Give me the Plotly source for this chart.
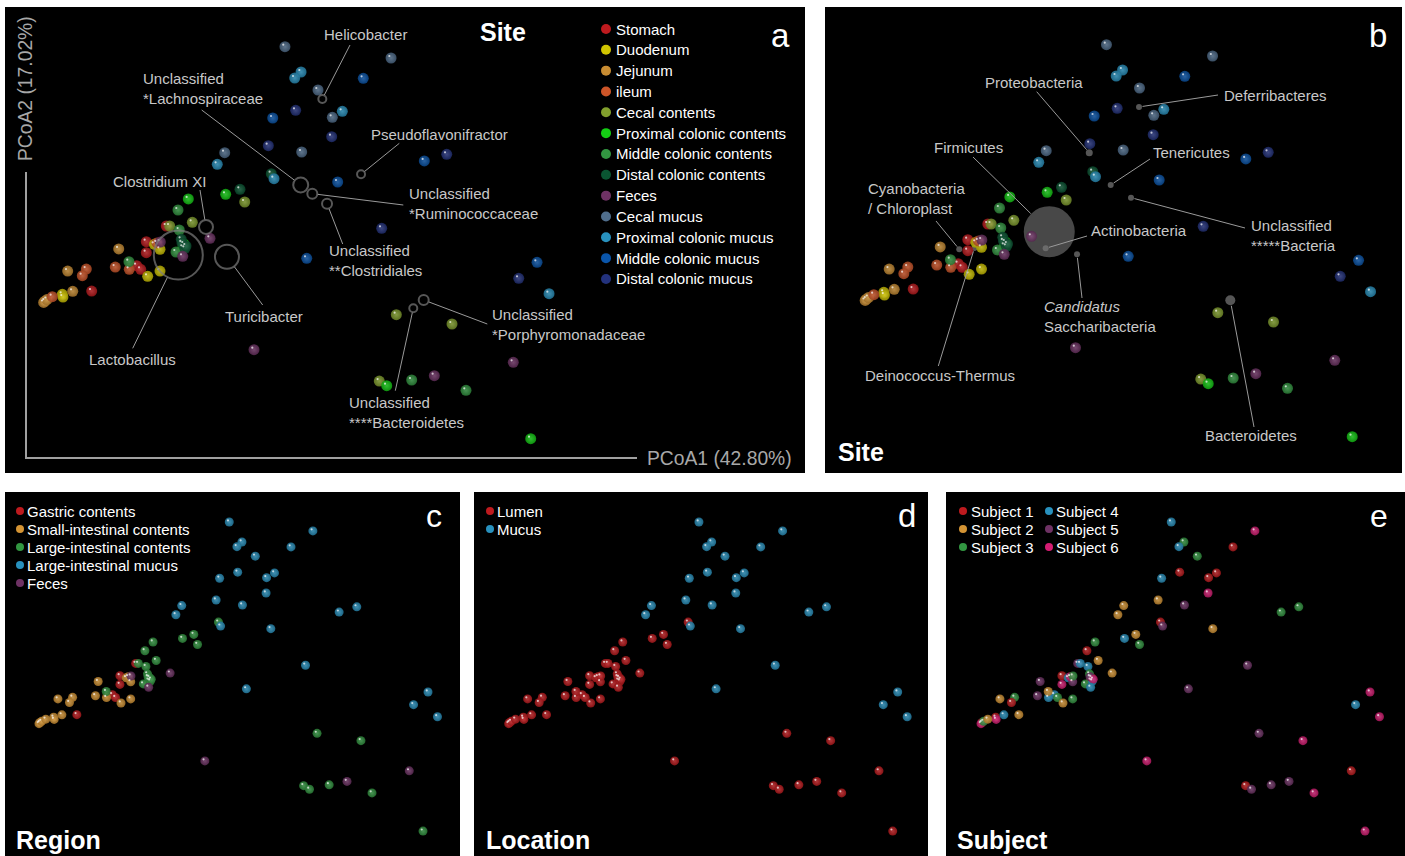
import plotly.graph_objects as go

W, H = 1405, 856
FONT = "Liberation Sans, Arial, sans-serif"

# ---------------- categories ----------------
SITES = ["Stomach", "Duodenum", "Jejunum", "ileum", "Cecal contents",
         "Proximal colonic contents", "Middle colonic contents", "Distal colonic contents",
         "Feces", "Cecal mucus", "Proximal colonic mucus", "Middle colonic mucus",
         "Distal colonic mucus"]
SITE_COLORS = ["#be1a1e", "#cfc400", "#c88c32", "#cd5528", "#82a02d", "#14cd14",
               "#329641", "#0a5532", "#6e3264", "#506e8c", "#2891be", "#0a55aa", "#23327d"]

REGIONS = ["Gastric contents", "Small-intestinal contents", "Large-intestinal contents",
           "Large-intestinal mucus", "Feces"]
REGION_COLORS = ["#be1a1e", "#d49434", "#329641", "#2891be", "#6e3264"]
SITE_REGION = [0, 1, 1, 1, 2, 2, 2, 2, 4, 3, 3, 3, 3]

LOCATIONS = ["Lumen", "Mucus"]
LOCATION_COLORS = ["#be1a1e", "#2891be"]
SITE_LOCATION = [0, 0, 0, 0, 0, 0, 0, 0, 0, 1, 1, 1, 1]

SUBJECTS = ["Subject 1", "Subject 2", "Subject 3", "Subject 4", "Subject 5", "Subject 6"]
SUBJECT_COLORS = ["#be1a1e", "#d49434", "#329641", "#2891be", "#6e3264", "#d41c72"]

# ---------------- samples (PCoA coordinates) ----------------
PC1 = [-0.1671, -0.1921, -0.1921, -0.2041, -0.1991, -0.2604,
       -0.1821, -0.1750, -0.1904, -0.1750, -0.2971, -0.2963,
       -0.2266, -0.2904, -0.2841, -0.3188, -0.3204, -0.3163,
       -0.2309, -0.2134, -0.2671, -0.2721, -0.3096, -0.1788,
       -0.1346, -0.0691, 0.1204, 0.1900, 0.0991, -0.1629,
       -0.1396, -0.0929, -0.1463, 0.1084, 0.2884, -0.1450,
       -0.1525, -0.1509, -0.1550, -0.2138, 0.1396, 0.2075,
       -0.0359, -0.0750, -0.1484, -0.1438, -0.1475, -0.1425,
       -0.1125, -0.1746, -0.1466, -0.0575, 0.2666, 0.1679,
       -0.0188, 0.1138, 0.0225, 0.0404, 0.0021, -0.0941,
       0.0013, -0.0066, 0.0529, -0.1034, -0.0325, 0.3113,
       0.0791, -0.0341, 0.0471, 0.1554, 0.0084, 0.2963,
       -0.0054, 0.0396, -0.0396, 0.1021, 0.1834, 0.2734]
PC2 = [0.0300, 0.0104, -0.0034, -0.0196, -0.0241, -0.0513,
       0.0071, 0.0009, -0.0329, -0.0263, -0.0554, -0.0588,
       0.0013, -0.0263, -0.0516, -0.0638, -0.0656, -0.0619,
       -0.0213, -0.0241, -0.0238, -0.0321, -0.0584, 0.0088,
       0.0346, 0.0600, -0.0809, -0.0925, -0.1638, 0.0300,
       0.0638, 0.0696, 0.0034, -0.1696, -0.2359, 0.0075,
       0.0500, 0.0250, -0.0025, -0.0146, -0.1625, -0.1754,
       0.0954, 0.0759, 0.0134, 0.0021, 0.0088, 0.0050,
       0.0146, 0.0100, -0.0079, -0.1246, -0.1404, -0.1571,
       0.2541, 0.2400, 0.2000, 0.1659, 0.1225, 0.1216,
       0.2225, 0.2150, 0.1734, 0.1071, 0.0891, -0.0546,
       0.2146, 0.1650, 0.0850, 0.1113, -0.0104, -0.0154,
       0.1746, 0.1416, 0.1304, 0.0271, 0.1196, -0.0354]
SITE_IDX = [0] * 6 + [1] * 6 + [2] * 6 + [3] * 6 + [4] * 6 + [5] * 6 + [6] * 6 + \
           [7] * 6 + [8] * 6 + [9] * 6 + [10] * 6 + [11] * 6 + [12] * 6
SUBJECT_IDX = [4, 0, 5, 3, 2, 1,
               3, 4, 1, 2, 0, 5,
               4, 1, 3, 0, 5, 2,
               4, 3, 2, 0, 1, 5,
               1, 2, 4, 5, 0, 3,
               2, 3, 1, 4, 5, 0,
               0, 3, 2, 1, 4, 5,
               0, 1, 2, 3, 4, 5,
               1, 2, 3, 5, 0, 4,
               3, 5, 2, 0, 4, 1,
               2, 3, 0, 1, 4, 5,
               0, 3, 1, 2, 4, 5,
               0, 5, 1, 4, 2, 3]

# ---------------- taxa biplot (panel a) ----------------
TAXA = ["Helicobacter", "Unclassified<br>*Lachnospiraceae", "Pseudoflavonifractor",
        "Clostridium XI", "Unclassified<br>*Ruminococcaceae", "Unclassified<br>**Clostridiales",
        "Turicibacter", "Lactobacillus", "Unclassified<br>*Porphyromonadaceae",
        "Unclassified<br>****Bacteroidetes"]
TAXA_PC1 = [0.0279, 0.0009, 0.0763, -0.1175, 0.0154, 0.0338, -0.0913, -0.1521, 0.1546, 0.1416]
TAXA_PC2 = [0.1888, 0.0813, 0.0946, 0.0288, 0.0704, 0.0579, -0.0084, -0.0063, -0.0625, -0.0729]
TAXA_SIZE = [8, 15, 8, 14, 10, 10, 24, 49, 10, 8]

# ---------------- phyla biplot (panel b) ----------------
PHYLA = ["Firmicutes", "Proteobacteria", "Deferribacteres", "Tenericutes",
         "Unclassified<br>*****Bacteria", "Actinobacteria",
         "<i>Candidatus</i><br>Saccharibacteria", "Cyanobacteria<br>/ Chloroplast",
         "Deinococcus-Thermus", "Bacteroidetes"]
PHYLA_PC1 = [-0.0903, -0.0403, 0.0219, -0.0135, 0.0119, -0.0948, -0.0556, -0.2028, -0.1838, 0.1360]
PHYLA_PC2 = [0.0204, 0.1191, 0.1763, 0.0788, 0.0629, -0.0004, -0.0079, -0.0016, 0.0000, -0.0654]
PHYLA_SIZE = [51, 7, 6, 6, 6, 6, 6, 6, 6, 10]

# ---------------- panel geometry (pixels) ----------------
# name, (left, top, right, bottom), x-offset, y-offset, px per PCoA unit
PANELS = [
    ("a", (5, 7, 805, 473), 300.0, 250.0, 800.0),
    ("b", (825, 7, 1402, 473), 1121.5, 248.0, 800.0),
    ("c", (5, 492, 460, 856), 241.1, 682.3, 630.8),
    ("d", (474, 492, 928, 856), 710.8, 682.3, 630.8),
    ("e", (946, 492, 1405, 856), 1183.1, 682.3, 630.8),
]


def px(x):
    return x / W


def py(y):
    return 1 - y / H


def to_px(p, x, y):
    _, _, ox, oy, s = p
    return ox + s * x, oy - s * y


def rgb(hexc):
    return int(hexc[1:3], 16), int(hexc[3:5], 16), int(hexc[5:7], 16)


def darker(hexc, f=0.78):
    r, g, b = rgb(hexc)
    return f"rgb({int(r*f)},{int(g*f)},{int(b*f)})"


def lighter(hexc, t=0.15):
    r, g, b = rgb(hexc)
    return f"rgb({int(r+(255-r)*t)},{int(g+(255-g)*t)},{int(b+(255-b)*t)})"


fig = go.Figure()
shapes = []
annos = []


def axes_names(i):
    n = "" if i == 0 else str(i + 1)
    return "x" + n, "y" + n, "xaxis" + n, "yaxis" + n


layout_axes = {}
for i, p in enumerate(PANELS):
    name, (x0, y0, x1, y1), ox, oy, s = p
    xa, ya, xk, yk = axes_names(i)
    layout_axes[xk] = dict(domain=[px(x0), px(x1)], range=[(x0 - ox) / s, (x1 - ox) / s],
                           visible=False, anchor=ya, fixedrange=True)
    layout_axes[yk] = dict(domain=[py(y1), py(y0)], range=[(oy - y1) / s, (oy - y0) / s],
                           visible=False, anchor=xa, fixedrange=True)
    shapes.append(dict(type="rect", xref="paper", yref="paper", x0=px(x0), x1=px(x1),
                       y0=py(y1), y1=py(y0), fillcolor="black", line=dict(width=0),
                       layer="below"))

# colours per panel
site_cols = [SITE_COLORS[k] for k in SITE_IDX]
panel_cols = [
    site_cols,
    site_cols,
    [REGION_COLORS[SITE_REGION[k]] for k in SITE_IDX],
    [LOCATION_COLORS[SITE_LOCATION[k]] for k in SITE_IDX],
    [SUBJECT_COLORS[k] for k in SUBJECT_IDX],
]

# phyla circles under the points in panel b
fig.add_trace(go.Scatter(
    x=PHYLA_PC1, y=PHYLA_PC2, xaxis="x2", yaxis="y2", mode="markers",
    marker=dict(size=PHYLA_SIZE, color=["#666666"] + ["#7a7a7a"] * 9,
                line=dict(width=0)),
    hoverinfo="skip", showlegend=False))

for i, p in enumerate(PANELS):
    xa, ya, _, _ = axes_names(i)
    s = p[4]
    msize = 11 if i < 2 else 9
    cols = panel_cols[i]
    fig.add_trace(go.Scatter(
        x=PC1, y=PC2, xaxis=xa, yaxis=ya, mode="markers",
        marker=dict(size=msize, color=[darker(c) for c in cols], opacity=0.9,
                    gradient=dict(type="radial", color=[lighter(c) for c in cols]),
                    line=dict(width=0)),
        hoverinfo="skip", showlegend=False))
    hx = 1.7 if i < 2 else 1.3
    hy = 2.0 if i < 2 else 1.6
    fig.add_trace(go.Scatter(
        x=[v - hx / s for v in PC1], y=[v + hy / s for v in PC2], xaxis=xa, yaxis=ya,
        mode="markers", marker=dict(size=2.2, color="rgba(255,255,255,0.7)", line=dict(width=0)),
        hoverinfo="skip", showlegend=False))

# taxa circles panel a
fig.add_trace(go.Scatter(
    x=TAXA_PC1, y=TAXA_PC2, xaxis="x", yaxis="y", mode="markers",
    marker=dict(size=TAXA_SIZE, symbol="circle-open", color="#7c7c7c", line=dict(width=2)),
    hoverinfo="skip", showlegend=False))

# ---------------- labels with leader lines ----------------
LBL = dict(color="#c8c8c8", size=15, family=FONT)

# (anchor, label x, label y, line start x, line start y)
TAXA_LABELS = [
    ("center", 365, 35, 350, 45),
    ("left", 141, 88, 201.7, 110),
    ("center", 439, 135, 399.3, 143.3),
    ("center", 159, 181, 200, 190),
    ("left", 407, 204, 403.3, 205),
    ("left", 327, 260, 342.7, 244),
    ("center", 264, 317, 262.7, 305),
    ("center", 132, 359, 132.7, 348.3),
    ("left", 490, 324.5, 487.3, 324),
    ("left", 347, 412.5, 395.3, 390.7),
]
PHYLA_LABELS = [
    ("center", 968, 148, 973, 157),
    ("center", 1034, 82, 1036.7, 91.7),
    ("left", 1222, 95, 1218, 95),
    ("left", 1151, 152, 1150, 159),
    ("left", 1249, 236, 1245, 228),
    ("left", 1089, 230, 1087, 236),
    ("left", 1042, 317, 1082, 298),
    ("left", 866, 199, 936, 221),
    ("center", 940, 375, 938.3, 366),
    ("center", 1251, 435, 1254, 427),
]


def leader(p, names, xs, ys, sizes, labels, gap):
    for k, (anc, lx, ly, sx, sy) in enumerate(labels):
        cx, cy = to_px(p, xs[k], ys[k])
        dx, dy = sx - cx, sy - cy
        d = (dx * dx + dy * dy) ** 0.5
        r = sizes[k] / 2 + gap
        ex, ey = cx + dx / d * r, cy + dy / d * r
        shapes.append(dict(type="line", xref="paper", yref="paper",
                           x0=px(sx), y0=py(sy), x1=px(ex), y1=py(ey),
                           line=dict(color="#9a9a9a", width=1)))
        annos.append(dict(x=px(lx), y=py(ly), xref="paper", yref="paper", text=names[k],
                          showarrow=False, xanchor=anc, yanchor="middle", align="left",
                          font=LBL))


leader(PANELS[0], TAXA, TAXA_PC1, TAXA_PC2, TAXA_SIZE, TAXA_LABELS, 0.5)
leader(PANELS[1], PHYLA, PHYLA_PC1, PHYLA_PC2, PHYLA_SIZE, PHYLA_LABELS, 0.5)

# ---------------- legends ----------------
def legend(items, colors, mx, tx, y0, step, r, size):
    for k, (t, c) in enumerate(zip(items, colors)):
        y = y0 + k * step
        shapes.append(dict(type="circle", xref="paper", yref="paper",
                           x0=px(mx - r), x1=px(mx + r), y0=py(y + r), y1=py(y - r),
                           fillcolor=c, line=dict(width=0)))
        annos.append(dict(x=px(tx), y=py(y), xref="paper", yref="paper", text=t,
                          showarrow=False, xanchor="left", yanchor="middle",
                          font=dict(color="white", size=size, family=FONT)))


legend(SITES, SITE_COLORS, 606, 614, 29, 20.83, 5, 15)
legend(REGIONS, REGION_COLORS, 20, 25, 511, 18, 4, 15)
legend(LOCATIONS, LOCATION_COLORS, 490, 495, 511, 18, 4, 15)
legend(SUBJECTS[:3], SUBJECT_COLORS[:3], 963, 969, 511, 18, 4, 15)
legend(SUBJECTS[3:], SUBJECT_COLORS[3:], 1049, 1054, 511, 18, 4, 15)

# ---------------- titles / letters / axes ----------------
def text(t, x, y, size, bold=False, color="white", anchor="center", angle=0):
    annos.append(dict(x=px(x), y=py(y), xref="paper", yref="paper",
                      text=f"<b>{t}</b>" if bold else t, showarrow=False,
                      xanchor=anchor, yanchor="middle", textangle=angle,
                      font=dict(color=color, size=size, family=FONT)))


text("Site", 503, 32, 25, bold=True)
text("a", 780, 36, 33)
text("b", 1378, 36, 33)
text("Site", 836, 452, 25, bold=True, anchor="left")
text("c", 434, 516, 32)
text("d", 907, 515, 33)
text("e", 1379, 516, 32)
text("Region", 14, 840, 25, bold=True, anchor="left")
text("Location", 484, 840, 25, bold=True, anchor="left")
text("Subject", 955, 840, 25, bold=True, anchor="left")
text("PCoA2 (17.02%)", 26, 89, 19.3, color="#a8a8a8", angle=-90)
text("PCoA1 (42.80%)", 645, 458, 19.3, color="#a8a8a8", anchor="left")

shapes.append(dict(type="line", xref="paper", yref="paper", x0=px(26), x1=px(26),
                   y0=py(172), y1=py(458), line=dict(color="#a0a0a0", width=2)))
shapes.append(dict(type="line", xref="paper", yref="paper", x0=px(25), x1=px(637),
                   y0=py(458), y1=py(458), line=dict(color="#a0a0a0", width=2)))

fig.update_layout(
    width=W, height=H, margin=dict(l=0, r=0, t=0, b=0),
    paper_bgcolor="white", plot_bgcolor="black",
    showlegend=False, shapes=shapes, annotations=annos,
    font=dict(family=FONT), **layout_axes)

fig.write_html("out.html", config={"displayModeBar": False},
               post_script="document.body.style.margin='0';document.body.style.overflow='hidden';")
